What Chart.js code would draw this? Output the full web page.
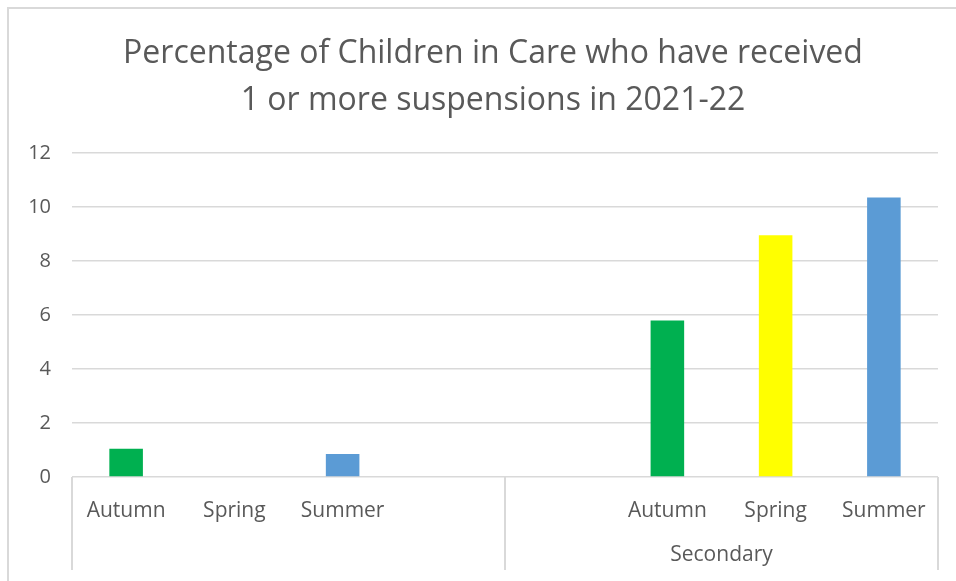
<!DOCTYPE html>
<html>
<head>
<meta charset="utf-8">
<script src="https://cdn.jsdelivr.net/npm/chart.js@4"></script>
<style>
  html, body { margin: 0; padding: 0; background: #fff; }
  canvas { display: block; }
</style>
</head>
<body>
<canvas id="chart" width="956" height="581"></canvas>
<script>
const seasons = ["Autumn", "Spring", "Summer", "", "", "Autumn", "Spring", "Summer"];
const phases = ["", "Secondary"];
const percentages = [1.05, 0, 0.85, null, null, 5.8, 8.95, 10.35];
const yTicks = [0, 2, 4, 6, 8, 10, 12];
const titleLines = ["Percentage of Children in Care who have received", "1 or more suspensions in 2021-22"];

const seasonColors = { Autumn: "#00B050", Spring: "#FFFF00", Summer: "#5B9BD5" };
const textColor = "#595959";
const lineColor = "#d9d9d9";
const font = "'Open Sans', sans-serif";

// border round the chart, title, group dividers and group names under the axis
const frame = {
  id: "frame",
  beforeDraw(chart) {
    const ctx = chart.ctx;
    ctx.save();
    ctx.strokeStyle = lineColor;
    ctx.lineWidth = 2;
    ctx.strokeRect(8, 8, chart.width, chart.height);
    ctx.fillStyle = textColor;
    ctx.font = "32px " + font;
    ctx.textAlign = "center";
    ctx.textBaseline = "middle";
    // the title sits centred on the framed box, not on the plot
    const cx = (8 + chart.width + 22) / 2;
    titleLines.forEach((line, i) => {
      ctx.fillText(line, cx, 54 + i * 47);
    });
    ctx.restore();
  },
  afterDraw(chart) {
    const ctx = chart.ctx;
    const x = chart.scales.x;
    const top = chart.chartArea.bottom;
    const groupSize = seasons.length / phases.length;
    const edges = [x.left];
    for (let g = 1; g < phases.length; g++) {
      edges.push((x.getPixelForValue(g * groupSize - 1) + x.getPixelForValue(g * groupSize)) / 2);
    }
    edges.push(x.right);

    ctx.save();
    ctx.strokeStyle = lineColor;
    ctx.lineWidth = 2;
    edges.forEach((ex) => {
      ctx.beginPath();
      ctx.moveTo(ex, top);
      ctx.lineTo(ex, 570);
      ctx.stroke();
    });
    ctx.fillStyle = textColor;
    ctx.font = "21px " + font;
    ctx.textAlign = "center";
    ctx.textBaseline = "middle";
    phases.forEach((p, i) => {
      ctx.fillText(p, (edges[i] + edges[i + 1]) / 2, 555);
    });
    ctx.restore();
  },
};

new Chart(document.getElementById("chart"), {
  type: "bar",
  data: {
    labels: seasons,
    datasets: [
      {
        data: percentages,
        backgroundColor: seasons.map((s) => seasonColors[s] || "#ffffff"),
        barPercentage: 0.31,
        categoryPercentage: 1,
      },
    ],
  },
  options: {
    responsive: false,
    animation: false,
    layout: { padding: { left: 8, right: 18, top: 153, bottom: 0 } },
    plugins: {
      legend: { display: false },
      tooltip: { enabled: false },
      title: { display: false },
    },
    scales: {
      x: {
        grid: { display: false },
        border: { display: false },
        ticks: {
          color: textColor,
          font: { family: font, size: 21 },
          padding: 13,
          maxRotation: 0,
          autoSkip: false,
        },
        afterFit(scale) {
          scale.height = 104;
        },
      },
      y: {
        min: 0,
        max: 12,
        afterBuildTicks(scale) {
          scale.ticks = yTicks.map((v) => ({ value: v }));
        },
        grid: { color: lineColor, lineWidth: 1.5, drawTicks: false },
        border: { display: false },
        ticks: {
          color: textColor,
          font: { family: font, size: 20 },
          padding: 21,
        },
        afterFit(scale) {
          scale.width = 64;
        },
      },
    },
  },
  plugins: [frame],
});
</script>
</body>
</html>
